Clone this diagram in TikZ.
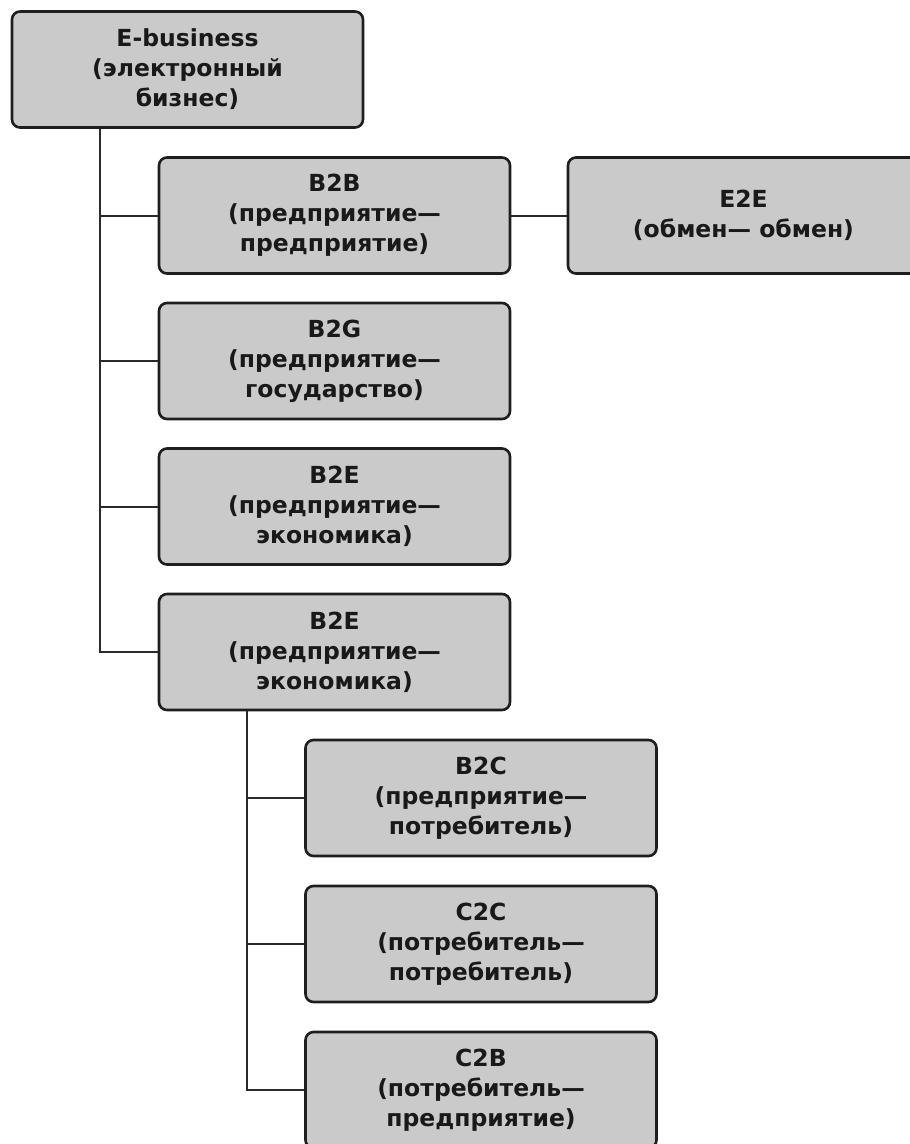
\documentclass[tikz,border=0pt]{standalone}
\usepackage{fontspec}
\setmainfont{DejaVu Sans}
\definecolor{boxfill}{HTML}{CACACA}
\definecolor{boxline}{HTML}{1E1E1E}
\definecolor{linkcol}{HTML}{2A2A2A}
\tikzset{
  box/.style={draw=boxline, fill=boxfill, line width=2.6pt, rounded corners=8pt,
    minimum width=351pt, minimum height=116pt, align=center, inner sep=0pt,
    text=black!90, font=\bfseries\fontsize{23.5}{30}\selectfont},
  link/.style={draw=linkcol, line width=2pt}
}
\begin{document}
\begin{tikzpicture}[x=1pt,y=-1pt]
\useasboundingbox (0,0) rectangle (910,1144);
\clip (0,0) rectangle (910,1144);
\fill[white] (0,0) rectangle (910,1144);
\coordinate (t) at (100,0);
\coordinate (s) at (247,0);
\node[box] (top) at (187.5,69.5) {E-business\\(электронный\\бизнес)};
\node[box] (b2b) at (334.5,215.5) {B2B\\(предприятие—\\предприятие)};
\node[box] (e2e) at (743.5,215.5) {E2E\\(обмен— обмен)};
\node[box] (b2g) at (334.5,361) {B2G\\(предприятие—\\государство)};
\node[box] (b2e) at (334.5,506.5) {B2E\\(предприятие—\\экономика)};
\node[box] (b2ex) at (334.5,652) {B2E\\(предприятие—\\экономика)};
\node[box] (b2c) at (481,798) {B2C\\(предприятие—\\потребитель)};
\node[box] (c2c) at (481,944) {C2C\\(потребитель—\\потребитель)};
\node[box] (c2b) at (481,1090) {C2B\\(потребитель—\\предприятие)};
\draw[link] (t |- top.south) |- (b2ex.west);
\foreach \n in {b2b,b2g,b2e} \draw[link] (t |- \n.west) -- (\n.west);
\draw[link] (b2b.east) -- (e2e.west);
\draw[link] (s |- b2ex.south) |- (c2b.west);
\foreach \n in {b2c,c2c} \draw[link] (s |- \n.west) -- (\n.west);
\end{tikzpicture}
\end{document}
